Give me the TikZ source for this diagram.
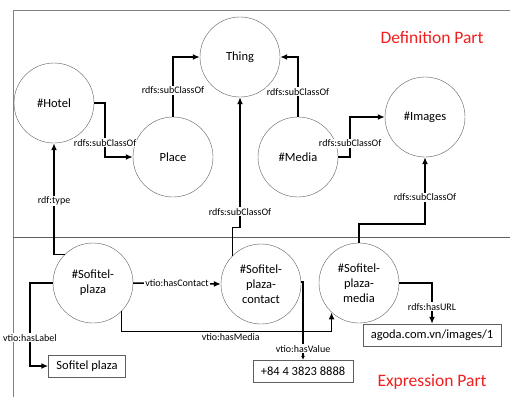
\documentclass[tikz,border=0pt]{standalone}
\usepackage{fontspec}
\setmainfont{Carlito}
\usepackage{tikz}
\usetikzlibrary{arrows,arrows.meta,shapes,positioning,calc}
\definecolor{framegray}{RGB}{130,130,130}
\definecolor{rimgray}{RGB}{95,95,95}
\definecolor{partred}{RGB}{240,30,30}
\tikzstyle{concept} = [circle, draw=rimgray, thin, minimum size=80pt, inner sep=0pt, align=center, font=\fontsize{12.5}{15}\selectfont]
\tikzstyle{literal} = [rectangle, draw=rimgray, thin, minimum height=22pt, inner xsep=8pt, font=\fontsize{12.5}{14}\selectfont]
\tikzstyle{link} = [line width=1.5pt, -{Latex[length=7pt,width=6pt]}]
\tikzstyle{prop} = [fill=white, inner sep=1pt, font=\fontsize{10}{12}\selectfont]
\tikzstyle{part} = [text=partred, font=\fontsize{17.5}{20}\selectfont]

\begin{document}
\begin{tikzpicture}[x=1pt, y=-1pt]
    \useasboundingbox (0,0) rectangle (510,397);

    % Frame
    \draw[framegray] (510,10) -- (13,10) -- (13,397);
    \draw[rimgray] (13,237) -- (510,237);

    % Definition part
    \node[concept] (thing) at (240,57) {Thing};
    \node[concept] (hotel) at (54,103) {\#Hotel};
    \node[concept] (place) at (173,157) {Place};
    \node[concept] (media) at (298,157) {\#Media};
    \node[concept] (images) at (425,117) {\#Images};
    \node[part] (defpart) at (432,38) {Definition Part};

    % Expression part
    \node[concept] (plaza) at (93,283) {\#Sofitel-\\plaza};
    \node[concept] (contact) at (261,284) {\#Sofitel-\\plaza-\\contact};
    \node[concept] (pmedia) at (359,283) {\#Sofitel-\\plaza-\\media};
    \node[literal] (lbox) at (87,366) {Sofitel plaza};
    \node[literal] (vbox) at (303,371) {+84 4 3823 8888};
    \node[literal] (ubox) at (432,335) {agoda.com.vn/images/1};
    \node[part] (exppart) at (432,382) {Expression Part};

    % Arrows
    \draw[link] (hotel.east) -- ++(11,0) |- node[prop, pos=0.37] {rdfs:subClassOf} (place.west);
    \draw[link] (place.north) |- node[prop, pos=0.22] {rdfs:subClassOf} (thing.west);
    \draw[link] (media.north) |- node[prop, pos=0.21] {rdfs:subClassOf} (thing.east);
    \draw[link] (media.east) -- ++(12,0) |- node[prop, pos=0.17] {rdfs:subClassOf} (images.west);
    \draw[link] (pmedia.north) -- ++(0,-19) -| node[prop, pos=0.7] {rdfs:subClassOf} (images.south);
    \draw[link] (contact.135) -- ++(0,-28) -| node[prop, pos=0.56] {rdfs:subClassOf} (thing.south);
    \draw[link] (plaza.135) -| node[prop, pos=0.74] {rdf:type} (hotel.south);
    \draw[link] (plaza.west) -- ++(-23,0) |- node[prop, pos=0.33] {vtio:hasLabel} (lbox.west);
    \draw[link] (plaza.east) -- node[prop] {vtio:hasContact} (contact.west);
    \draw[link] (plaza.-45) -- ++(0,20) -| node[prop, pos=0.26, anchor=north, fill=none] {vtio:hasMedia} (pmedia.227);
    \draw[link, -{Latex[length=4pt,width=4pt]}] (contact.3) -| node[prop, pos=0.93] {vtio:hasValue} (vbox.north);
    \draw[link] (pmedia.east) -| node[prop, pos=0.79] {rdfs:hasURL} (ubox.north);
\end{tikzpicture}
\end{document}
